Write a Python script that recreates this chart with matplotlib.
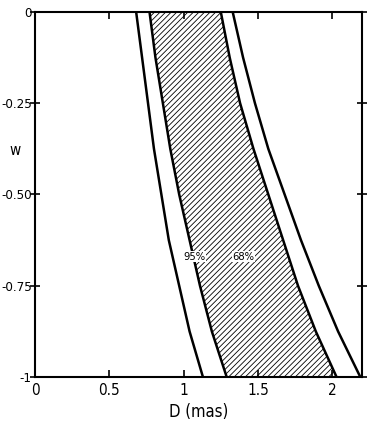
import matplotlib
matplotlib.use('Agg')
import matplotlib.pyplot as plt
import numpy as np

plt.rcParams['font.family'] = ['DejaVu Sans']
plt.rcParams['font.stretch'] = 'condensed'
plt.rcParams['hatch.linewidth'] = 0.6

# data
w = [0, -0.125, -0.25, -0.375, -0.5, -0.625, -0.75, -0.875, -1]
d95_lo = [0.68, 0.72, 0.76, 0.80, 0.85, 0.90, 0.97, 1.04, 1.13]
d68_lo = [0.77, 0.81, 0.86, 0.91, 0.97, 1.04, 1.11, 1.19, 1.29]
d68_hi = [1.25, 1.31, 1.38, 1.47, 1.57, 1.67, 1.77, 1.89, 2.03]
d95_hi = [1.33, 1.40, 1.48, 1.57, 1.68, 1.79, 1.91, 2.04, 2.19]

xticks = [0, 0.5, 1, 1.5, 2]
xtick_labels = ['0', '0.5', '1', '1.5', '2']
yticks = [0, -0.25, -0.5, -0.75, -1]
ytick_labels = ['0', '-0.25', '-0.50', '-0.75', '-1']

fig = plt.figure(figsize=(3.7, 4.38), dpi=100)
ax = fig.add_axes([0.095, 0.139, 0.883, 0.834])

ax.fill_betweenx(w, d68_lo, d68_hi, facecolor='white', edgecolor='black',
                 hatch='//////', linewidth=0)
for d in (d95_lo, d68_lo, d68_hi, d95_hi):
    ax.plot(d, w, color='black', lw=1.8)

ax.text(1.0, -0.67, '95%', fontsize=8, ha='left', va='center',
        bbox=dict(facecolor='white', edgecolor='none', pad=0.3))
ax.text(1.33, -0.67, '68%', fontsize=8, ha='left', va='center',
        bbox=dict(facecolor='white', edgecolor='none', pad=0.3))

ax.set_xlim(0, 2.2)
ax.set_ylim(-1, 0)
ax.set_xticks(xticks, xtick_labels)
ax.set_yticks(yticks, ytick_labels)
ax.tick_params(axis='both', direction='in', length=5, width=1.2, labelsize=9.5,
               top=True, right=True)
ax.tick_params(axis='y', direction='inout', length=7, pad=-1)
ax.tick_params(axis='x', pad=4, labelsize=11)
for s in ax.spines.values():
    s.set_linewidth(1.5)

ax.set_xlabel('D (mas)', fontsize=12, labelpad=4)
ax.text(-0.1, -0.38, 'w', fontsize=11, ha='right', va='center')

plt.savefig('out.png', dpi=100)
